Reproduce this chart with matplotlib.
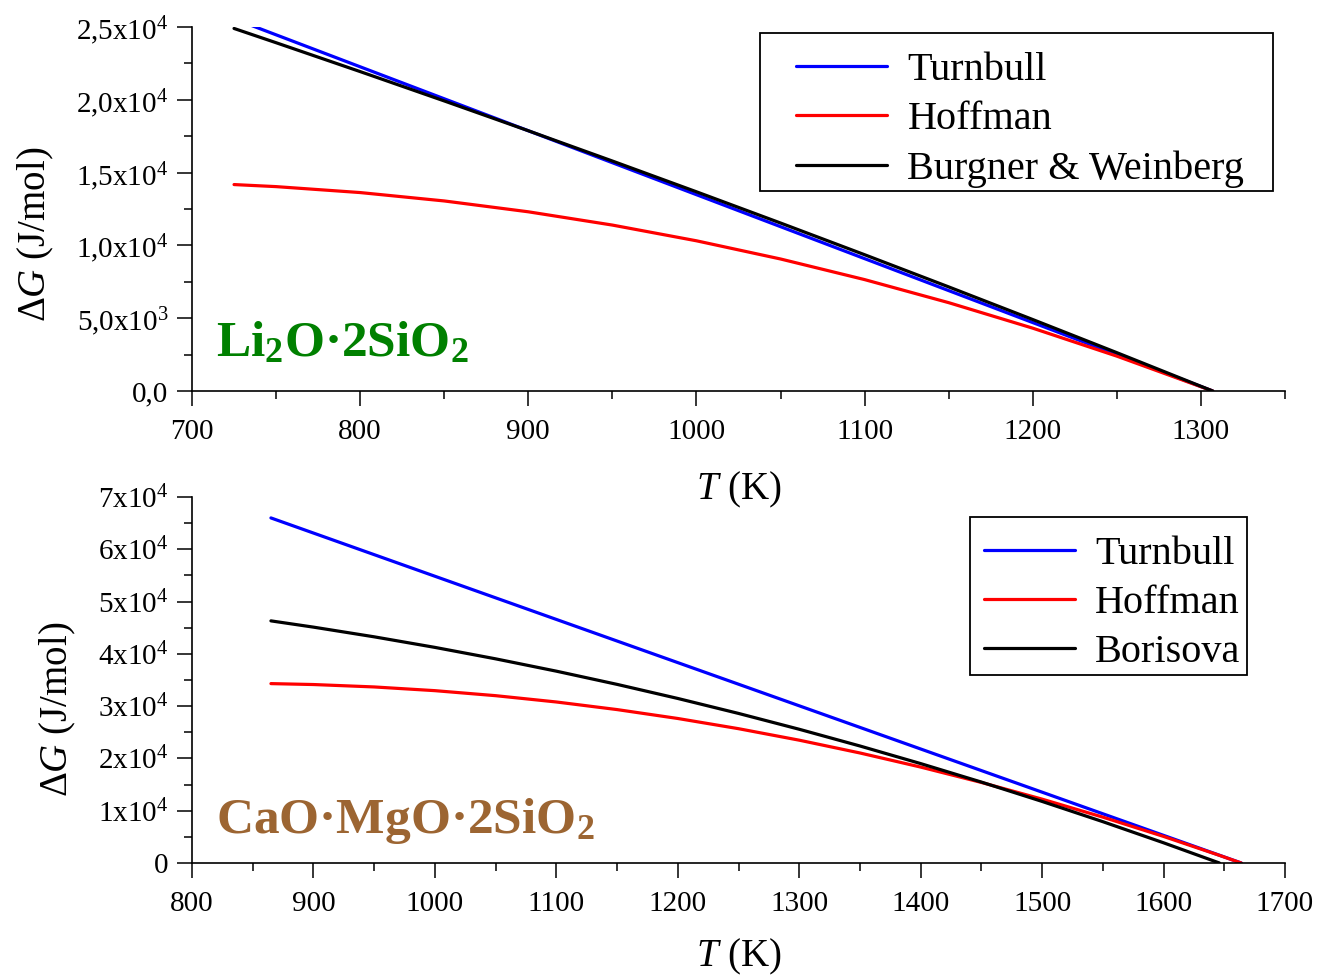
import numpy as np
import matplotlib
matplotlib.use('Agg')
from matplotlib import pyplot as plt
from matplotlib.ticker import MultipleLocator
from matplotlib.path import Path

plt.rcParams['font.family'] = ['Liberation Serif', 'DejaVu Serif']
plt.rcParams['mathtext.fontset'] = 'custom'
plt.rcParams['mathtext.rm'] = 'Liberation Serif'
plt.rcParams['mathtext.it'] = 'Liberation Serif:italic'
plt.rcParams['mathtext.bf'] = 'Liberation Serif:bold'

# Li2O.2SiO2 panel
T_lds = [725, 750, 800, 850, 900, 950, 1000, 1050, 1100, 1150, 1200, 1250, 1307]
turnbull_lds = [25561, 24463, 22267, 20071, 17875, 15679, 13483, 11287, 9091, 6895, 4699, 2503, 0]
hoffman_lds = [14178, 14037, 13629, 13053, 12308, 11396, 10316, 9067, 7651, 6067, 4315, 2394, 0]
burgner_lds = [24900, 23921, 21938, 19923, 17875, 15795, 13682, 11537, 9360, 7150, 4908, 2633, 0]

lds_yticks = [0, 5000, 10000, 15000, 20000, 25000]
lds_yticklabels = ['0,0', '5,0x10$^{3}$', '1,0x10$^{4}$', '1,5x10$^{4}$', '2,0x10$^{4}$', '2,5x10$^{4}$']
lds_xticks = [700, 800, 900, 1000, 1100, 1200, 1300]

# CaO.MgO.2SiO2 panel
T_di = [865, 900, 950, 1000, 1050, 1100, 1150, 1200, 1250, 1300, 1350, 1400, 1450, 1500, 1550, 1600, 1646, 1664]
turnbull_di = [65997, 63106, 58976, 54846, 50716, 46586, 42456, 38326, 34196, 30066, 25936, 21806, 17676, 13546, 9416, 5286, 1487, 0]
hoffman_di = [34309, 34133, 33672, 32962, 32003, 30797, 29343, 27640, 25689, 23490, 21043, 18347, 15404, 12212, 8772, 5083, 1460, 0]
T_di_bor = [865, 900, 950, 1000, 1050, 1100, 1150, 1200, 1250, 1300, 1350, 1400, 1450, 1500, 1550, 1600, 1646]
borisova_di = [46309, 45112, 43259, 41238, 39048, 36690, 34164, 31470, 28608, 25578, 22379, 19013, 15478, 11775, 7904, 3865, 0]

di_yticks = [0, 10000, 20000, 30000, 40000, 50000, 60000, 70000]
di_yticklabels = ['0', '1x10$^{4}$', '2x10$^{4}$', '3x10$^{4}$', '4x10$^{4}$', '5x10$^{4}$', '6x10$^{4}$', '7x10$^{4}$']
di_xticks = [800, 900, 1000, 1100, 1200, 1300, 1400, 1500, 1600, 1700]

lw = 2.3
tick_fs = 21
label_fs = 28
leg_fs = 29


class PadBox:
    # square legend frame with its own padding on each side (fractions of font size)
    def __init__(self, left, right, top, bottom):
        self.pads = (left, right, top, bottom)

    def __call__(self, x0, y0, width, height, mutation_size):
        l, r, t, b = [p * mutation_size for p in self.pads]
        x1, y1 = x0 + width + r, y0 + height + t
        x0, y0 = x0 - l, y0 - b
        return Path([(x0, y0), (x1, y0), (x1, y1), (x0, y1), (x0, y0)], closed=True)


def style_axis(ax, xlim, ylim, xticks, yticks, yticklabels, xminor, yminor):
    ax.set_xlim(*xlim)
    ax.set_ylim(*ylim)
    for s in ['top', 'right']:
        ax.spines[s].set_visible(False)
    for s in ['left', 'bottom']:
        ax.spines[s].set_linewidth(1.2)
    ax.set_xticks(xticks)
    ax.set_xticklabels([str(t) for t in xticks])
    ax.set_yticks(yticks)
    ax.set_yticklabels(yticklabels)
    ax.xaxis.set_minor_locator(MultipleLocator(xminor))
    ax.yaxis.set_minor_locator(MultipleLocator(yminor))
    ax.tick_params(which='major', direction='out', length=11, width=1.1, labelsize=tick_fs)
    ax.tick_params(which='minor', direction='out', length=6, width=1.1)
    ax.tick_params(axis='x', pad=9)
    ax.tick_params(axis='y', pad=6)


def make_legend(ax, anchor, pads):
    leg = ax.legend(loc='upper right', bbox_to_anchor=anchor, fontsize=leg_fs,
                    frameon=True, fancybox=False, edgecolor='black', framealpha=1,
                    handlelength=2.26, handletextpad=0.5, labelspacing=0.3, borderpad=0.24,
                    borderaxespad=0)
    leg.get_frame().set_linewidth(1.3)
    leg.get_frame().set_boxstyle(PadBox(*pads))
    return leg


fig = plt.figure(figsize=(13.28, 9.77), dpi=100)

ax1 = fig.add_axes([192 / 1328, 1 - 391 / 977, 1093 / 1328, 364 / 977])
ax1.plot(T_lds, turnbull_lds, color='#0000ff', lw=lw, label='Turnbull', solid_capstyle='round')
ax1.plot(T_lds, hoffman_lds, color='#ff0000', lw=lw, label='Hoffman', solid_capstyle='round')
ax1.plot(T_lds, burgner_lds, color='black', lw=lw, label='Burgner & Weinberg', solid_capstyle='round')
style_axis(ax1, (700, 1350), (0, 25000), lds_xticks, lds_yticks, lds_yticklabels, 50, 2500)
ax1.set_xlabel('$T$ (K)', fontsize=label_fs)
ax1.set_ylabel(r'$\Delta G$ (J/mol)', fontsize=label_fs)
ax1.xaxis.set_label_coords(0.5, -0.217)
ax1.yaxis.set_label_coords(-0.124, 0.43)
ax1.text(714, 2400, r'$\mathbf{Li_{2}O·2SiO_{2}}$', color='#008000', fontsize=37,
         ha='left', va='baseline')
make_legend(ax1, ((1254 - 192) / 1093, (391 - 42) / 364), (0.65, 0.47, 0.22, -0.15))

ax2 = fig.add_axes([192 / 1328, 1 - 863 / 977, 1093 / 1328, 366 / 977])
ax2.patch.set_visible(False)
ax2.plot(T_di, turnbull_di, color='#0000ff', lw=lw, label='Turnbull', solid_capstyle='round')
ax2.plot(T_di, hoffman_di, color='#ff0000', lw=lw, label='Hoffman', solid_capstyle='round')
ax2.plot(T_di_bor, borisova_di, color='black', lw=lw, label='Borisova', solid_capstyle='round')
style_axis(ax2, (800, 1700), (0, 70000), di_xticks, di_yticks, di_yticklabels, 50, 5000)
ax2.set_xlabel('$T$ (K)', fontsize=label_fs)
ax2.set_ylabel(r'$\Delta G$ (J/mol)', fontsize=label_fs)
ax2.xaxis.set_label_coords(0.5, -0.203)
ax2.yaxis.set_label_coords(-0.104, 0.42)
ax2.text(820, 5800, r'$\mathbf{CaO·MgO·2SiO_{2}}$', color='#9c6532', fontsize=37,
         ha='left', va='baseline')
make_legend(ax2, ((1250 - 192) / 1093, (863 - 526) / 366), (0.1, -0.07, 0.22, -0.15))

fig.savefig('out.png', dpi=100)
